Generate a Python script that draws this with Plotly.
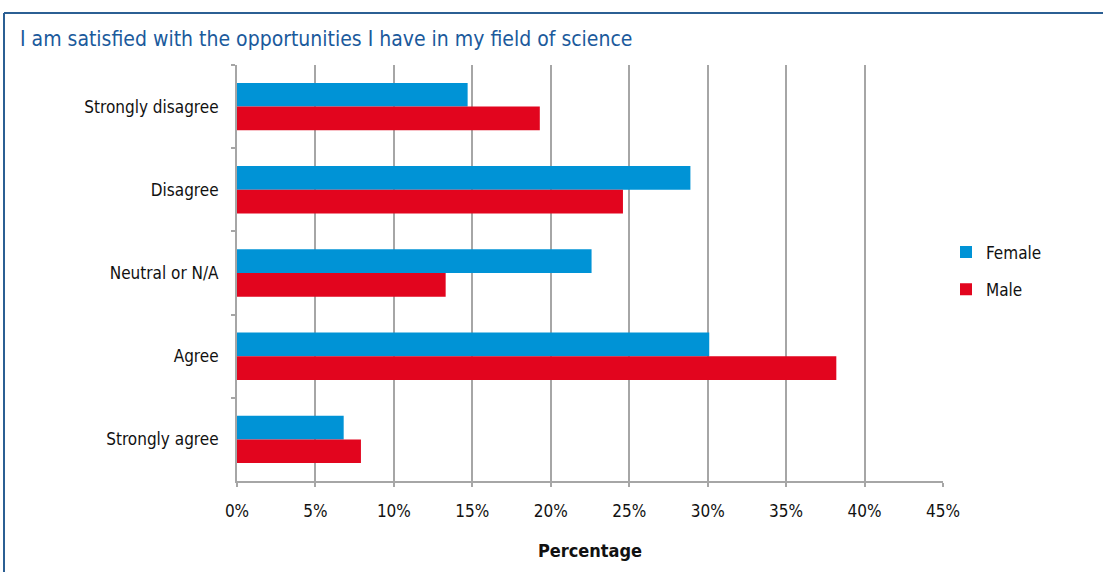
import plotly.graph_objects as go

categories = ["Strongly disagree", "Disagree", "Neutral or N/A", "Agree", "Strongly agree"]
female = [14.7, 28.9, 22.6, 30.1, 6.8]
male = [19.3, 24.6, 13.3, 38.2, 7.9]
x_ticks = [0, 5, 10, 15, 20, 25, 30, 35, 40, 45]
x_tick_labels = [f"{v}%" for v in x_ticks]
title_text = "I am satisfied with the opportunities I have in my field of science"

FONT = "DejaVu Sans Condensed, Liberation Sans Narrow, Arial Narrow, sans-serif"
BLUE = "#0093d6"
RED = "#e2051e"
GRID = "#a6a6a6"

fig = go.Figure()
fig.add_trace(go.Bar(y=categories, x=female, name="Female", orientation="h",
                     legendgroup="f", marker=dict(color=BLUE, line=dict(width=0))))
fig.add_trace(go.Bar(y=categories, x=male, name="Male", orientation="h",
                     legendgroup="m", marker=dict(color=RED, line=dict(width=0))))

W, H = 1103, 572
L, R, T, B = 237, 160, 65, 91
pw, ph = W - L - R, H - T - B

def px_x(p):
    return (p - L) / pw

def px_y(p):
    return (H - B - p) / ph

fig.update_layout(
    width=W, height=H,
    margin=dict(l=L, r=R, t=T, b=B),
    paper_bgcolor="white", plot_bgcolor="white",
    barmode="group", bargap=0.43, bargroupgap=0,
    font=dict(family=FONT, size=17, color="#111111"),
    title=dict(text=title_text, xref="container", yref="container",
               x=20 / W, y=1 - 39 / H, xanchor="left", yanchor="middle",
               font=dict(family=FONT, size=21, color="#1b5a9c")),
    legend=dict(x=px_x(946), y=px_y(271), xanchor="left", yanchor="middle",
                traceorder="grouped", font=dict(family=FONT, size=17),
                itemwidth=30, tracegroupgap=12, bgcolor="rgba(0,0,0,0)"),
    xaxis=dict(range=[0, 45], tickmode="array", tickvals=x_ticks, ticktext=x_tick_labels,
               showgrid=True, gridcolor=GRID, gridwidth=2,
               showline=True, linecolor=GRID, linewidth=2,
               ticks="outside", ticklen=4, tickcolor=GRID, tickwidth=2,
               ticklabelstandoff=10, zeroline=False,
               tickfont=dict(family=FONT, size=17),
               title=dict(text="<b>Percentage</b>", standoff=24,
                          font=dict(family=FONT, size=18))),
    yaxis=dict(autorange="reversed", showline=True, linecolor=GRID, linewidth=2,
               ticks="outside", ticklen=4, tickcolor=GRID, tickwidth=2,
               tickson="boundaries", showgrid=False, ticklabelstandoff=13,
               tickfont=dict(family=FONT, size=17)),
    shapes=[
        dict(type="line", xref="paper", yref="paper",
             x0=px_x(4), x1=px_x(1110), y0=px_y(13), y1=px_y(13),
             line=dict(color="#2b5f93", width=2)),
        dict(type="line", xref="paper", yref="paper",
             x0=px_x(4), x1=px_x(4), y0=px_y(13), y1=px_y(580),
             line=dict(color="#2b5f93", width=2)),
    ],
)

fig.write_html("out.html", config={"displayModeBar": False},
               post_script="document.body.style.margin='0';document.body.style.overflow='hidden';")
